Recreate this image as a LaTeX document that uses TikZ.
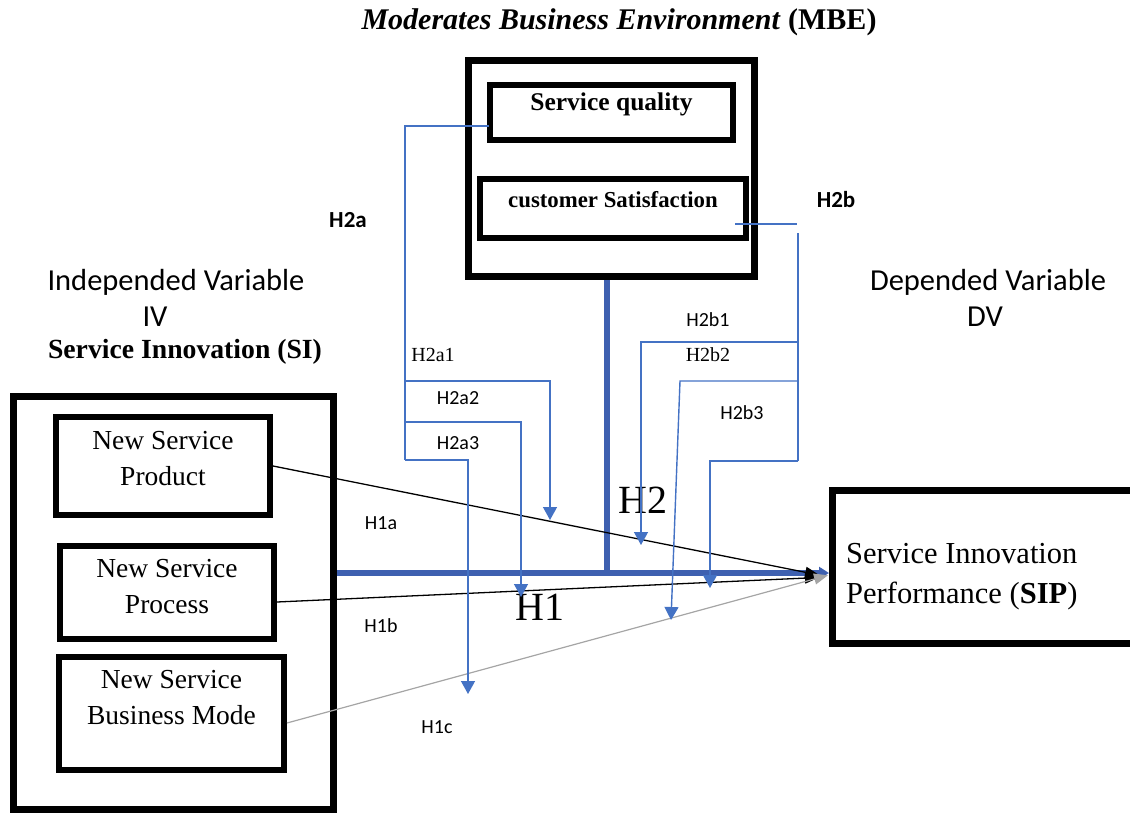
\documentclass[tikz,border=0pt]{standalone}
\usepackage{fontspec}
\setmainfont{Liberation Serif}
\newfontfamily\calib{Carlito}
\usetikzlibrary{arrows.meta}
\definecolor{lblue}{RGB}{68,114,196}
\definecolor{dblue}{RGB}{62,96,176}
\definecolor{lgray}{RGB}{165,165,165}
\begin{document}
\begin{tikzpicture}[x=1pt,y=-1pt,
  bigbox/.style={draw,line width=7pt,inner sep=0pt},
  smallbox/.style={draw,line width=6pt,inner sep=0pt},
  txt/.style={inner sep=0pt,align=center},
  boxtxt/.style={txt,font={\fontsize{27.5}{36}\selectfont}},
  sanslab/.style={txt,font={\calib\fontsize{20}{24}\selectfont}},
  boldlab/.style={txt,font={\calib\fontsize{23}{26}\selectfont\bfseries}},
  seriflab/.style={txt,font={\fontsize{20}{24}\selectfont}},
  heading/.style={txt,font={\calib\fontsize{30.5}{34}\selectfont}},
  bigh/.style={txt,font={\fontsize{40}{44}\selectfont}},
  bl/.style={draw=lblue,line width=1.4pt},
  blarrow/.style={bl,-{Triangle[width=14pt,length=13pt,fill=lblue]}},
  blk/.style={draw=black,line width=1.3pt,-{Triangle[width=11pt,length=14pt]},shorten >=10pt},
  thick blue/.style={draw=dblue,line width=5.5pt}]
\useasboundingbox (0,0) rectangle (1130,816);

% ---- boxes
\node[bigbox,minimum width=286pt,minimum height=216pt] (mbe) at (611.5,168.5) {};
\node[smallbox,minimum width=243pt,minimum height=55pt] (sq) at (611.5,112.5) {};
\node[smallbox,minimum width=266pt,minimum height=59pt] (cs) at (613,208.5) {};
\node[bigbox,minimum width=320pt,minimum height=413pt] (iv) at (173.5,603) {};
\node[smallbox,minimum width=214pt,minimum height=98pt] (nsp) at (163,466) {};
\node[smallbox,minimum width=214pt,minimum height=93pt] (nspr) at (167,592.5) {};
\node[smallbox,minimum width=225pt,minimum height=113pt] (nsbm) at (171.5,713.5) {};
\node[bigbox,minimum width=305pt,minimum height=153pt] (sip) at (985,567) {};

% ---- box texts
\node[txt,font={\fontsize{25.5}{30}\selectfont\bfseries}] (sqt) at (611.5,104) {Service quality};
\node[txt,font={\fontsize{22.8}{27}\selectfont\bfseries}] (cst) at (613,200) {customer Satisfaction};
\node[boxtxt] (nspt) at (163,459) {New Service\\Product};
\node[boxtxt] (nsprt) at (167,587) {New Service\\Process};
\node[boxtxt] (nsbmt) at (171.5,698) {New Service\\Business Mode};
\node[txt,anchor=west,align=left,font={\fontsize{30.5}{40}\selectfont}] (sipt) at (846,577) {Service Innovation\\Performance (\textbf{SIP})};

% ---- headings
\node[txt,font={\fontsize{30}{34}\selectfont\bfseries}] (title) at (619,22) {\textit{Moderates Business Environment} (MBE)};
\node[heading] (ivt1) at (176,282) {Independed Variable};
\node[heading] (ivt2) at (155,317) {IV};
\node[txt,font={\fontsize{27.7}{32}\selectfont\bfseries}] (ivt3) at (185,352) {Service Innovation (SI)};
\node[heading] (dvt1) at (988,282) {Depended Variable};
\node[heading] (dvt2) at (985,317) {DV};

% ---- hypothesis labels
\node[boldlab] (lh2a) at (348,220) {H2a};
\node[boldlab] (lh2b) at (836,200) {H2b};
\node[seriflab] (lh2a1) at (433,355) {H2a1};
\node[sanslab] (lh2a2) at (458,398) {H2a2};
\node[sanslab] (lh2a3) at (458,443) {H2a3};
\node[sanslab] (lh2b1) at (708,320) {H2b1};
\node[seriflab] (lh2b2) at (708,355) {H2b2};
\node[sanslab] (lh2b3) at (742,413) {H2b3};
\node[sanslab] (lh1a) at (381,523) {H1a};
\node[sanslab] (lh1b) at (381,626) {H1b};
\node[sanslab] (lh1c) at (437,727) {H1c};
\node[bigh] (lh2) at (643,500) {H2};
\node[bigh] (lh1) at (540,607) {H1};

% ---- coordinates
\coordinate (a0) at (405,126);
\coordinate (a1j) at (405,381);
\coordinate (a2j) at (405,422);
\coordinate (a3j) at (405,460);
\coordinate (a1t) at (550,520);
\coordinate (a2t) at (521,597);
\coordinate (a3t) at (468,694);
\coordinate (b0) at (797,224);
\coordinate (btop) at (798,233);
\coordinate (b1j) at (798,342);
\coordinate (b2j) at (798,381);
\coordinate (b3j) at (798,461);
\coordinate (b1t) at (641,545);
\coordinate (b2k) at (680,381);
\coordinate (b2t) at (671,620);
\coordinate (b3t) at (710,588);
\coordinate (hj) at (607,573);

% ---- thick blue H1 / H2
\draw[thick blue] ([xshift=-4.5pt]mbe.south) -- (hj);
\draw[thick blue,-{Triangle[width=12pt,length=10pt]}] ([yshift=30pt]iv.east) -- ([yshift=-6pt]sip.west);

% ---- H1a, H1b, H1c
\draw[blk] (nsp.east) -- ([yshift=-10pt]sip.west);
\draw[blk] ([yshift=-9.5pt]nspr.east) -- ([yshift=-10pt]sip.west);
\draw[draw=lgray,line width=1.2pt,-{Triangle[width=11pt,length=14pt,fill=lgray]},shorten >=1pt] ([yshift=-9.5pt]nsbm.east) -- ([yshift=-8pt]sip.west);

% ---- H2a moderation lines
\draw[bl] ([xshift=2pt,yshift=-13.5pt]sq.west) -- (a0) -- (a3j);
\draw[blarrow] (a1j) -| (a1t);
\draw[blarrow] (a2j) -| (a2t);
\draw[blarrow] (a3j) -| (a3t);

% ---- H2b moderation lines
\draw[bl] ([xshift=-14pt,yshift=-15.5pt]cs.east) -- (b0);
\draw[bl] (btop) -- (b3j);
\draw[blarrow] (b1j) -| (b1t);
\draw[blarrow] (b2j) -- (b2k) -- (b2t);
\draw[blarrow] (b3j) -| (b3t);
\end{tikzpicture}
\end{document}
